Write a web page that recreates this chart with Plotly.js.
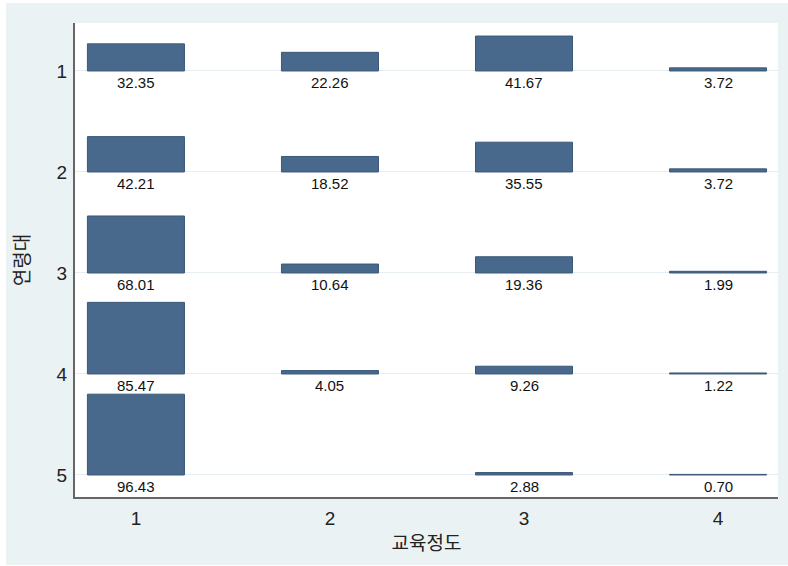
<!DOCTYPE html>
<html>
<head>
<meta charset="utf-8">
<script src="https://cdn.plot.ly/plotly-3.0.1.min.js"></script>
<style>
  html, body { margin: 0; padding: 0; background: #ffffff; }
  #chart { position: absolute; left: 6px; top: 3px; width: 782px; height: 562px; }
</style>
</head>
<body>
<div id="chart"></div>
<script>
// 연령대 (age group) categories, top to bottom
const ageGroups = [1, 2, 3, 4, 5];
// 교육정도 (education level) categories, left to right
const eduLevels = [1, 2, 3, 4];
// Row percentages per education level, one value per age group
const edu1 = [32.35, 42.21, 68.01, 85.47, 96.43];
const edu2 = [22.26, 18.52, 10.64, 4.05, null];
const edu3 = [41.67, 35.55, 19.36, 9.26, 2.88];
const edu4 = [3.72, 3.72, 1.99, 1.22, 0.70];
const seriesByEdu = [edu1, edu2, edu3, edu4];

const xTitle = '교육정도';
const yTitle = '연령대';

const FONT = 'Liberation Sans, Arial, "Noto Sans CJK KR", sans-serif';
const barFill = '#48698c';
const barLine = '#3a5878';

let maxVal = 0;
seriesByEdu.forEach(s => s.forEach(v => { if (v !== null && v > maxVal) maxVal = v; }));
const scale = 0.8 / maxVal; // tallest bar spans 0.8 of a row

const traces = [];
const annotations = [];
seriesByEdu.forEach((series, j) => {
  const xs = [], heights = [], bases = [];
  series.forEach((v, i) => {
    if (v === null) return;
    const h = v * scale;
    xs.push(eduLevels[j]);
    heights.push(h);
    bases.push(ageGroups[i] - h);
    annotations.push({
      x: eduLevels[j], y: ageGroups[i], xref: 'x', yref: 'y',
      text: v.toFixed(2), showarrow: false,
      xanchor: 'center', yanchor: 'top', yshift: -1,
      font: { family: FONT, size: 15, color: '#111111' }
    });
  });
  traces.push({
    type: 'bar', x: xs, y: heights, base: bases, width: 0.5,
    marker: { color: barFill, line: { color: barLine, width: 1 } },
    hoverinfo: 'skip', showlegend: false
  });
});

const layout = {
  width: 782, height: 562,
  margin: { l: 69, r: 10, t: 20, b: 68 },
  paper_bgcolor: '#eaf2f3',
  plot_bgcolor: '#ffffff',
  font: { family: FONT, color: '#222222' },
  showlegend: false,
  barmode: 'overlay',
  bargap: 0,
  annotations: annotations,
  xaxis: {
    range: [0.686, 4.309],
    tickvals: eduLevels, ticktext: eduLevels.map(String),
    tickfont: { size: 19, color: '#222222' },
    ticks: 'outside', ticklen: 3, tickcolor: 'rgba(0,0,0,0)',
    showgrid: false, zeroline: false,
    showline: true, linecolor: '#666666', linewidth: 2,
    title: { text: xTitle, font: { size: 19, color: '#222222' }, standoff: 9 }
  },
  yaxis: {
    range: [5.218, 0.525],
    tickvals: ageGroups, ticktext: ageGroups.map(String),
    tickfont: { size: 19, color: '#222222' },
    ticks: 'outside', ticklen: 2, tickcolor: 'rgba(0,0,0,0)',
    showgrid: true, gridcolor: '#e6eef1', gridwidth: 1,
    zeroline: false,
    showline: true, linecolor: '#666666', linewidth: 2,
    title: { text: yTitle, font: { size: 19, color: '#222222' }, standoff: 22 }
  }
};

Plotly.newPlot('chart', traces, layout, { displayModeBar: false, staticPlot: true });
</script>
</body>
</html>
